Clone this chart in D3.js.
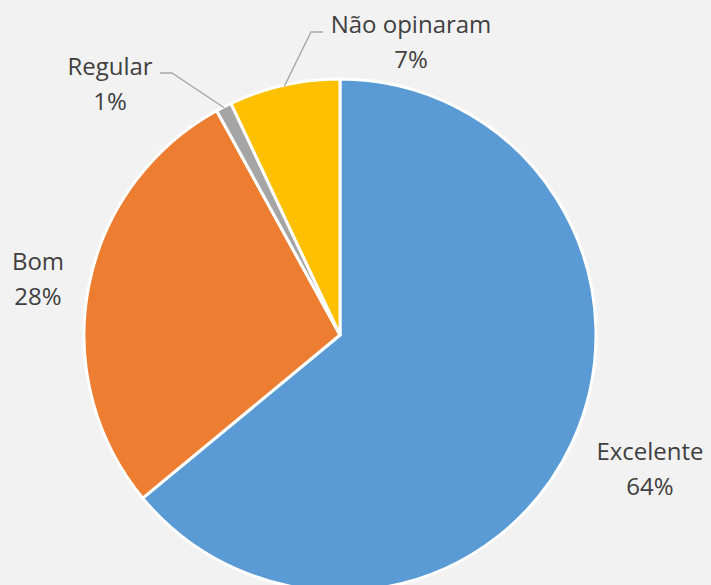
<!DOCTYPE html>
<html>
<head>
  <meta charset="utf-8">
  <script src="https://d3js.org/d3.v7.min.js"></script>
<style>
  html, body {
    margin: 0;
    padding: 0;
    background: #f2f2f2;
  }
  text {
    font-family: "Open Sans", Lato, sans-serif;
    font-size: 24px;
    fill: #404040;
  }
</style>
</head>
<body>
<script>
  var categories = ["Excelente", "Bom", "Regular", "Não opinaram"];
  var values = [64, 28, 1, 7];
  var percentLabels = ["64%", "28%", "1%", "7%"];

  var colors = ["#5b9bd5", "#ed7d31", "#a5a5a5", "#ffc000"];

  var width = 711,
      height = 585,
      cx = 340,
      cy = 335,
      radius = 256,
      lineGap = 35;

  // label block: centre x and first baseline; leader = elbow points (label end first)
  var labelLayout = [
    { x: 650, y: 460, leader: null },
    { x: 38, y: 270, leader: null },
    { x: 110, y: 75, leader: [[160, 73], [172, 73]] },
    { x: 411, y: 33, leader: [[323, 32], [311, 32]] }
  ];

  var svg = d3.select("body")
    .append("svg")
      .attr("width", width)
      .attr("height", height);

  var g = svg.append("g")
      .attr("transform", "translate(" + cx + "," + cy + ")");

  var pie = d3.pie().sort(null).value(function (d) { return d; });
  var arcs = pie(values);
  var arc = d3.arc().innerRadius(0).outerRadius(radius);
  var edge = d3.arc().innerRadius(radius - 1).outerRadius(radius - 1);

  g.selectAll("path.slice")
    .data(arcs)
    .enter()
    .append("path")
      .attr("class", "slice")
      .attr("d", arc)
      .style("fill", function (d, i) { return colors[i]; })
      .style("stroke", "#ffffff")
      .style("stroke-width", 3)
      .style("stroke-linejoin", "round");

  // leader lines for the small slices
  arcs.forEach(function (d, i) {
    var L = labelLayout[i].leader;
    if (!L) return;
    var p = edge.centroid(d);
    var pts = L.map(function (q) { return [q[0] - cx, q[1] - cy]; });
    pts.push(p);
    g.append("path")
      .attr("d", d3.line()(pts))
      .style("fill", "none")
      .style("stroke", "#a6a6a6")
      .style("stroke-width", 1.3);
  });

  var labels = svg.selectAll("text.lbl")
    .data(categories)
    .enter()
    .append("text")
      .attr("class", "lbl")
      .attr("text-anchor", "middle")
      .attr("x", function (d, i) { return labelLayout[i].x; })
      .attr("y", function (d, i) { return labelLayout[i].y; });

  labels.append("tspan")
      .attr("x", function (d, i) { return labelLayout[i].x; })
      .text(function (d) { return d; });

  labels.append("tspan")
      .attr("x", function (d, i) { return labelLayout[i].x; })
      .attr("dy", lineGap)
      .text(function (d, i) { return percentLabels[i]; });
</script>
</body>
</html>
